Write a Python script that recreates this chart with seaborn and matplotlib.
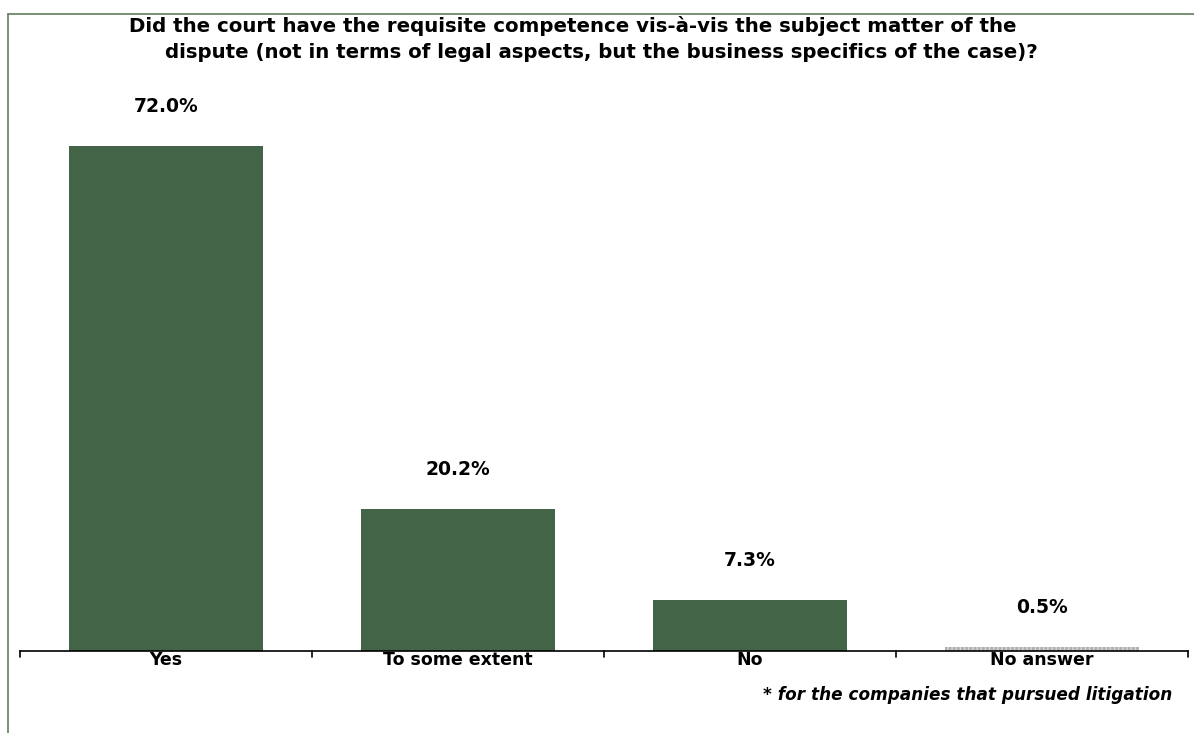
import matplotlib
matplotlib.use("Agg")
import matplotlib.pyplot as plt
import seaborn as sns
import pandas as pd
from matplotlib.lines import Line2D

categories = ["Yes", "To some extent", "No", "No answer"]
values = [72.0, 20.2, 7.3, 0.5]
labels = ["72.0%", "20.2%", "7.3%", "0.5%"]
title_lines = [
    "Did the court have the requisite competence vis-à-vis the subject matter of the",
    "dispute (not in terms of legal aspects, but the business specifics of the case)?",
]
footnote = "* for the companies that pursued litigation"

sns.set_theme(style="white")
plt.rcParams["font.family"] = ["DejaVu Sans"]
plt.rcParams["text.color"] = "black"
plt.rcParams["xtick.color"] = "black"

df = pd.DataFrame({"category": categories, "value": values})

W, H = 1194, 733
fig = plt.figure(figsize=(W / 100, H / 100), dpi=100)
ax = fig.add_axes([20 / W, 1 - 651 / H, 1168 / W, (651 - 90) / H])

green = "#436446"
sns.barplot(data=df, x="category", y="value", order=categories,
            color=green, width=0.667, saturation=1, linewidth=0, ax=ax)

# the "No answer" bar is drawn as a light grey dotted sliver
last = ax.patches[-1]
last.set_facecolor("#b0b0b0")
last.set_hatch("||||")
last.set_edgecolor("#d8d8d8")
last.set_linewidth(0)

ax.set_xlim(-0.5, 3.5)
ax.set_ylim(0, 80)
ax.set_xlabel("")
ax.set_ylabel("")
ax.set_yticks([])
for s in ["top", "right", "left"]:
    ax.spines[s].set_visible(False)
ax.spines["bottom"].set_color("black")
ax.spines["bottom"].set_linewidth(1.2)

ax.set_xticks(range(len(categories)))
ax.set_xticklabels(categories, fontsize=12.5, fontweight="bold", color="black")
ax.tick_params(axis="x", length=0, pad=0)
# boundary ticks between categories
for b in [-0.5, 0.5, 1.5, 2.5, 3.5]:
    ax.plot([b, b], [0, -0.9], color="black", lw=1.2, clip_on=False)

for i, (v, lab) in enumerate(zip(values, labels)):
    ax.annotate(lab, (i, v), xytext=(0, 28.5), textcoords="offset points",
                ha="center", va="center", fontsize=13.5, fontweight="bold",
                color="black")

fig.text(573 / W, 1 - 26 / H, title_lines[0], ha="center", va="center",
         fontsize=14.2, fontweight="bold", color="black")
fig.text(601 / W, 1 - 52 / H, title_lines[1], ha="center", va="center",
         fontsize=14.2, fontweight="bold", color="black")
fig.text(1172 / W, 1 - 695 / H, footnote, ha="right", va="center",
         fontsize=12.2, fontweight="bold", style="italic", color="black")

# outer frame lines
frame = "#5f7f5f"
fig.add_artist(Line2D([8 / W, 1], [1 - 14 / H, 1 - 14 / H], color=frame, lw=1.2))
fig.add_artist(Line2D([8 / W, 8 / W], [1 - 14 / H, 0], color=frame, lw=1.2))

fig.savefig("out.png", dpi=100)
